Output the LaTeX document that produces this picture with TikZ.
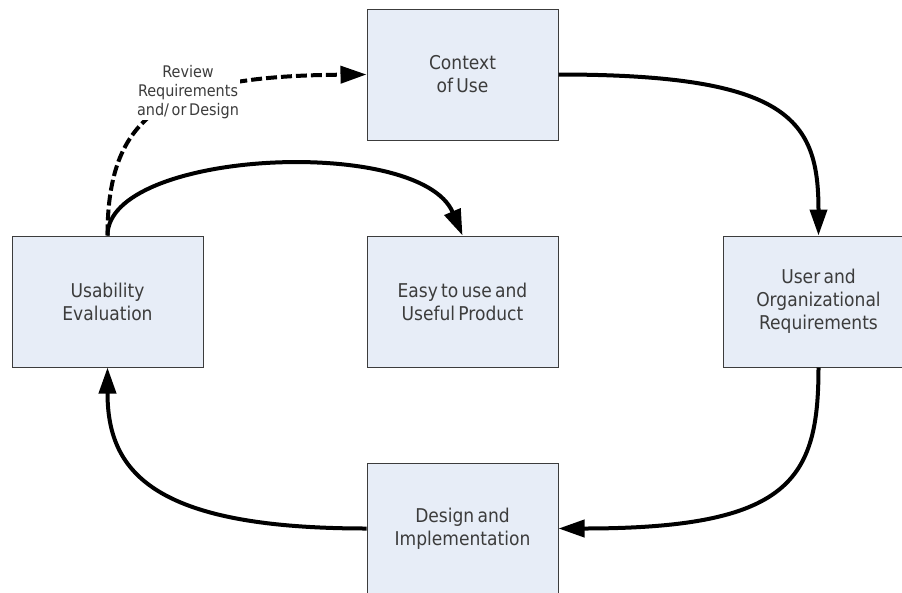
\documentclass[tikz,border=0pt]{standalone}
\usepackage{fontspec}
\setmainfont{DejaVuSansCondensed}[Extension=.ttf,WordSpace=0.6]
\usetikzlibrary{arrows.meta}
\definecolor{boxfill}{RGB}{231,237,247}
\definecolor{boxline}{RGB}{60,60,60}
\definecolor{txt}{RGB}{60,60,60}
\tikzset{
  stagebox/.style={draw=boxline, line width=1pt, fill=boxfill, minimum width=191pt, minimum height=131pt, inner sep=0pt, align=center, text=txt, font=\fontsize{19}{23}\selectfont},
  flow/.style={line width=4pt, -{Triangle[length=26pt,width=17pt]}},
  dflow/.style={flow, dash pattern=on 11pt off 4pt},
  note/.style={fill=white, inner sep=1pt, align=center, text=txt, font=\fontsize{16}{19}\selectfont}
}
\begin{document}
\begin{tikzpicture}[x=1pt,y=-1pt]
\clip (0,0) rectangle (902,592);
\fill[white] (0,0) rectangle (902,592);
\node[stagebox] (ctx) at (462.5,74.5) {Context\\of Use};
\node[stagebox] (use) at (107.5,301.5) {Usability\\Evaluation};
\node[stagebox] (easy) at (462.5,301.5) {Easy to use and\\Useful Product};
\node[stagebox] (req) at (818.5,301.5) {User and\\Organizational\\Requirements};
\node[stagebox] (des) at (462.5,528.5) {Design and\\Implementation};
\draw[flow] (ctx.east) .. controls (790,74.5) and (818.5,120) .. (req.north);
\draw[flow] (req.south) .. controls (818.5,480) and (790,528.5) .. (des.east);
\draw[flow] (des.west) .. controls (150,528.5) and (107.5,470) .. (use.south);
\draw[flow] (use.north) .. controls (107.5,150) and (420,135) .. (easy.north);
\draw[dflow] (use.north) .. controls (107.5,110) and (170,76) .. (ctx.west);
\node[note] (lbl) at (188,92) {Review\\Requirements\\and/ or Design};
\end{tikzpicture}
\end{document}
